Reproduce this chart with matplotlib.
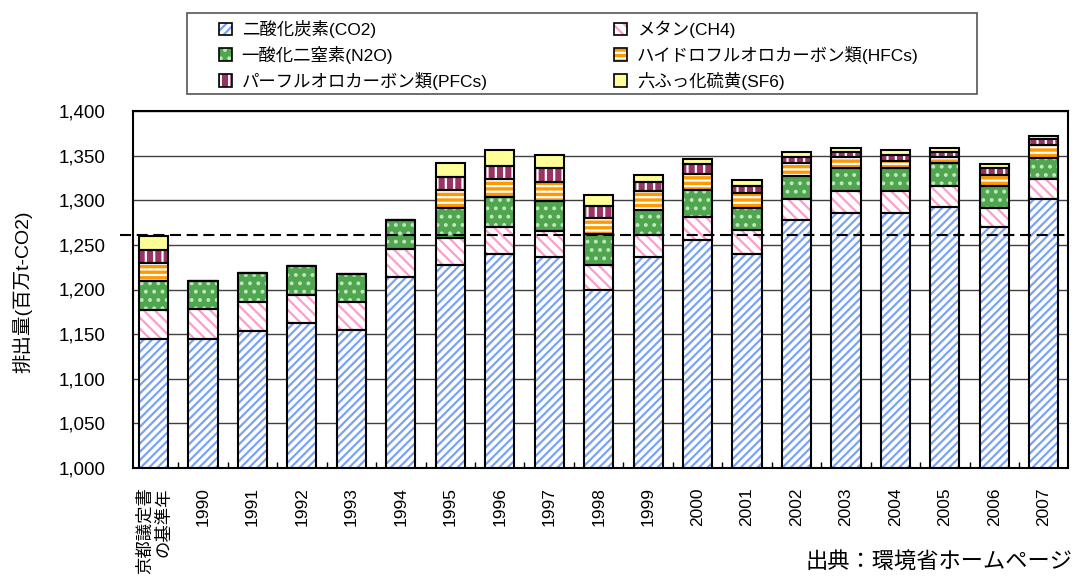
import numpy as np
import matplotlib
matplotlib.use("Agg")
import matplotlib.pyplot as plt
from matplotlib.patches import Patch, Rectangle

plt.rcParams['font.family'] = ['Liberation Sans', 'Noto Sans CJK JP', 'DejaVu Sans']
plt.rcParams['hatch.linewidth'] = 1.6

# 年度
years = ['京都議定書\nの基準年', '1990', '1991', '1992', '1993', '1994', '1995', '1996',
         '1997', '1998', '1999', '2000', '2001', '2002', '2003', '2004', '2005',
         '2006', '2007']

# 排出量 (百万t-CO2)
co2 = [1144, 1144, 1154, 1162, 1155, 1214, 1228, 1240, 1236, 1200, 1236, 1256,
       1240, 1278, 1286, 1286, 1292, 1270, 1301]
ch4 = [33.4, 34.0, 32.0, 31.9, 31.5, 31.9, 29.5, 30.0, 30.0, 27.0, 25.5, 25.5,
       26.3, 23.3, 24.0, 24.4, 23.7, 21.6, 22.4]
n2o = [32.0, 32.0, 32.2, 32.2, 30.8, 31.9, 34.1, 34.1, 33.6, 34.8, 28.1, 29.7,
       25.5, 25.9, 26.0, 25.6, 26.3, 24.1, 24.1]
hfcs = [20.0, 0, 0, 0, 0, 0, 20.0, 19.6, 20.4, 17.8, 20.4, 18.5,
        16.7, 14.5, 12.5, 8.1, 6.3, 12.6, 14.0]
pfcs = [14.8, 0, 0, 0, 0, 0, 14.5, 15.1, 16.3, 14.1, 10.0, 10.4,
        7.8, 6.3, 5.9, 6.3, 5.9, 8.1, 6.6]
sf6 = [15.8, 0, 0, 0, 0, 0, 15.9, 17.5, 14.1, 12.2, 8.5, 6.2,
       5.9, 5.9, 4.1, 6.2, 4.1, 4.1, 3.8]

base_year = 1261

labels = ['二酸化炭素(CO2)', 'メタン(CH4)', '一酸化二窒素(N2O)',
          'ハイドロフルオロカーボン類(HFCs)', 'パーフルオロカーボン類(PFCs)', '六ふっ化硫黄(SF6)']
series = [co2, ch4, n2o, hfcs, pfcs, sf6]
# (塗り, 模様の色, 模様)
styles = [('white', '#7ba3f3', '////'),
          ('white', '#ff9ccc', '\\\\\\'),
          ('#4fa64f', '#bfe6bf', '..'),
          ('#ff9900', 'white', '---'),
          ('#993366', 'white', '||'),
          ('#ffff99', '#ffff99', '')]

fig = plt.figure(figsize=(10.75, 5.76), dpi=100)
ax = fig.add_axes([133/1075, 1-468/576, 935/1075, 357/576])

x = np.arange(len(years))
w = 0.59
bottom = np.zeros(len(years))
handles = []
for vals, (fc, hc, h) in zip(series, styles):
    vals = np.array(vals, dtype=float)
    ax.bar(x, vals, w, bottom=bottom, color=fc, edgecolor=hc, hatch=h, linewidth=0, zorder=2)
    ax.bar(x, vals, w, bottom=bottom, fill=False, edgecolor='black', linewidth=1.5, zorder=3)
    bottom += vals
    p1 = Patch(facecolor=fc, edgecolor=hc, hatch=h, linewidth=0)
    p2 = Patch(fill=False, edgecolor='black', linewidth=1.2)
    handles.append((p1, p2))

# 基準年の破線
ax.axhline(base_year, xmin=-0.014, xmax=1.0, color='black', linestyle=(0, (5.3, 2.7)),
           linewidth=1.5, zorder=4, clip_on=False)

ax.set_ylim(1000, 1400)
ax.set_xlim(-0.415, 18.49)
ax.set_yticks(np.arange(1000, 1401, 50))
ax.set_yticklabels(['{:,}'.format(v) for v in range(1000, 1401, 50)])
ax.yaxis.grid(True, color='#404040', linewidth=1)
ax.set_axisbelow(True)
ax.tick_params(axis='y', length=0, pad=20, labelsize=13.5)

ax.set_xticks(x)
ax.set_xticklabels(years, rotation=90, fontsize=12.5, va='top', ha='center',
                   multialignment='right')
ax.tick_params(axis='x', length=0, pad=14)
ax.set_xticks(x[:-1] + 0.5, minor=True)
ax.tick_params(axis='x', which='minor', direction='in', length=4, width=1)
for s in ax.spines.values():
    s.set_linewidth(1.5)

fig.text(22/1075, 1-292/576, '排出量(百万t-CO2)', rotation=90, fontsize=14,
         ha='center', va='center')

# 凡例 (列ごとの順)
order = [0, 2, 4, 1, 3, 5]
fig.legend([handles[i] for i in order], [labels[i] for i in order], ncol=2,
           loc='upper left', bbox_to_anchor=(219/1075, 1-20/576), frameon=False,
           fontsize=12.5, handlelength=0.75, handleheight=0.75, handletextpad=0.55,
           columnspacing=7.3, labelspacing=0.45, borderpad=0, borderaxespad=0)
fig.patches.append(Rectangle((187/1075, 1-94/576), 790/1075, 81/576, fill=False,
                             edgecolor='#555555', linewidth=1.2, transform=fig.transFigure))

fig.text(1072/1075, 1-573/576, '出典：環境省ホームページ', fontsize=16, ha='right', va='bottom')

fig.savefig('out.png', dpi=100)
